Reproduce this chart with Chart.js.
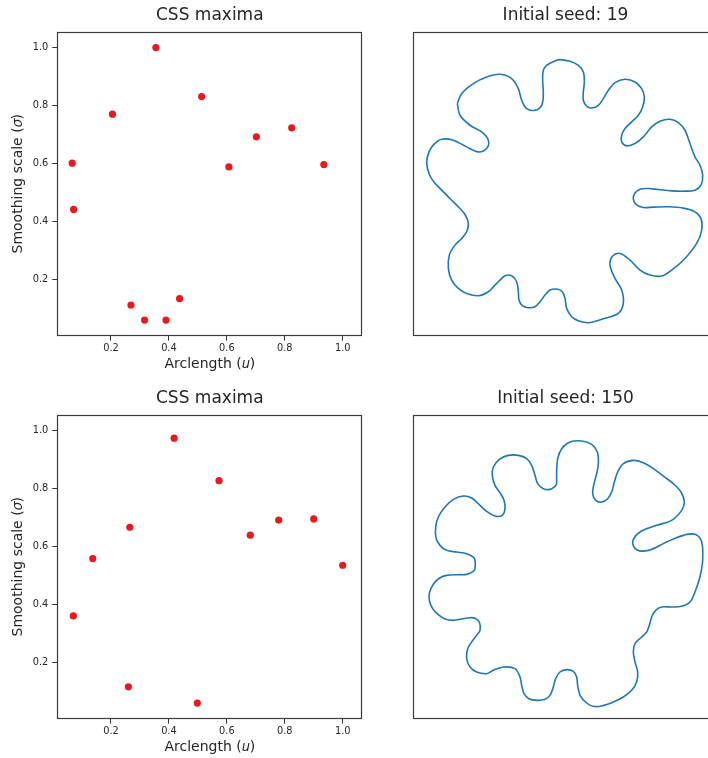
<!DOCTYPE html>
<html>
<head>
<meta charset="utf-8">
<script src="https://cdn.jsdelivr.net/npm/chart.js@4/dist/chart.umd.min.js"></script>
<style>
  html, body { margin: 0; padding: 0; background: #fff; overflow: hidden; width: 708px; height: 758px; }
  canvas { position: absolute; }
</style>
</head>
<body>
<canvas id="css1" style="left:0px;top:0px"></canvas>
<canvas id="seed1" style="left:405px;top:0px"></canvas>
<canvas id="css2" style="left:0px;top:383px"></canvas>
<canvas id="seed2" style="left:405px;top:383px"></canvas>
<script>
// CSS maxima, seed 19
let arc19 = [0.066, 0.071, 0.205, 0.269, 0.316, 0.355, 0.390, 0.437, 0.513, 0.607, 0.702, 0.824, 0.935];
let sigma19 = [0.601, 0.441, 0.770, 0.111, 0.059, 1.000, 0.059, 0.133, 0.831, 0.588, 0.692, 0.723, 0.596];

// CSS maxima, seed 150
let arc150 = [0.070, 0.137, 0.265, 0.260, 0.418, 0.498, 0.573, 0.681, 0.779, 0.900, 1.000];
let sigma150 = [0.360, 0.558, 0.666, 0.115, 0.974, 0.059, 0.827, 0.639, 0.691, 0.695, 0.535];

let xTicks = [0.2, 0.4, 0.6, 0.8, 1.0];
let yTicks = [0.2, 0.4, 0.6, 0.8, 1.0];

// contour outlines (arbitrary units)
let shape19X = [133,146,181,221,261,296,316,326,341,366,386,391,389,391,401,431,441,471,496,511,514,511,511,521,536,556,571,586,606,636,666,686,694,689,676,656,636,626,626,641,666,691,716,741,771,796,816,831,846,861,869,864,846,816,776,736,706,681,665,661,671,691,721,766,811,846,864,866,851,816,776,746,711,681,651,621,599,591,606,626,631,616,571,526,496,476,461,456,448,431,411,396,381,366,346,328,318,316,311,296,276,261,246,226,196,161,136,116,106,109,126,146,161,166,156,136,111,86,64,49,41,48,62,86,121,161,196,221,226,206,171,141];
let shape19Y = [698,728,758,778,786,773,743,708,683,678,693,728,768,798,813,828,830,825,813,793,763,733,708,690,685,693,713,738,761,771,763,743,718,688,663,643,623,603,583,571,578,598,628,645,651,641,618,578,538,513,483,453,438,435,436,440,443,441,428,411,394,386,387,388,384,373,353,318,278,233,198,180,183,198,228,248,240,213,173,138,98,68,52,40,46,58,83,113,133,141,138,123,103,88,85,91,108,133,163,181,181,168,153,133,121,128,143,168,203,243,273,293,313,338,365,388,413,438,461,485,520,553,575,591,588,568,553,563,588,613,633,663];

let shape150X = [431,431,434,446,471,506,536,553,556,551,543,539,548,566,584,596,604,614,631,661,691,721,751,781,804,814,806,776,731,681,659,671,706,761,811,846,866,869,865,858,846,831,806,776,746,728,716,709,701,686,666,661,666,674,671,656,631,601,566,541,521,501,494,491,481,461,441,428,421,411,396,371,348,333,326,321,306,271,241,221,191,171,161,164,176,191,201,199,186,171,146,121,96,76,59,49,50,62,80,101,136,161,181,186,186,181,161,131,101,81,69,68,76,96,121,151,176,201,221,246,268,276,273,261,246,238,241,259,286,316,341,356,366,374,391,411,426];
let shape150Y = [706,741,781,811,831,834,824,801,766,736,706,676,656,651,661,681,711,741,766,776,769,751,729,706,681,651,626,596,581,561,531,508,506,531,551,554,531,476,446,416,381,351,338,336,336,326,306,281,261,246,226,201,171,141,111,86,66,51,39,38,48,71,101,126,143,148,141,121,96,71,59,56,61,76,101,126,151,156,146,136,141,156,181,211,231,251,266,291,302,304,300,296,300,313,331,356,381,406,423,431,433,434,443,451,476,486,496,501,506,521,543,576,606,636,659,669,663,641,623,609,611,631,656,679,701,731,756,779,791,791,781,761,731,706,691,689,698];

const FONT = "'DejaVu Sans', 'Liberation Sans', sans-serif";
const INK = '#262626';

// full box around the plot area, like matplotlib spines
const boxPlugin = {
  id: 'box',
  afterDraw(chart) {
    const a = chart.chartArea;
    const c = chart.ctx;
    c.save();
    c.strokeStyle = '#3c3c3c';
    c.lineWidth = 1.2;
    c.strokeRect(Math.round(a.left) + 0.5, Math.round(a.top) + 0.5,
                 Math.round(a.right - a.left) - 1, Math.round(a.bottom - a.top) - 1);
    c.restore();
  }
};

function toPoints(xs, ys) {
  return xs.map((x, i) => ({ x: x, y: ys[i] }));
}

function titleOpts(text) {
  return {
    display: true, text: text, fullSize: false, color: INK,
    font: { family: FONT, size: 17, weight: 'normal', lineHeight: 1.2 },
    padding: { top: 5, bottom: 6.3 }
  };
}

function cssChart(id, xs, ys) {
  const el = document.getElementById(id);
  el.width = 370; el.height = 383;
  return new Chart(el, {
    type: 'scatter',
    data: {
      datasets: [{
        data: toPoints(xs, ys),
        backgroundColor: '#e8191f',
        borderWidth: 0,
        pointRadius: 3.6
      }]
    },
    options: {
      responsive: false,
      animation: false,
      layout: { padding: { left: 0, right: 7.7, top: 0, bottom: 0 } },
      plugins: {
        legend: { display: false },
        tooltip: { enabled: false },
        title: titleOpts('CSS maxima')
      },
      scales: {
        x: {
          type: 'linear', min: 0.0146, max: 1.0677,
          afterBuildTicks: s => { s.ticks = xTicks.map(v => ({ value: v })); },
          afterFit: s => { s.height = 47.3; },
          border: { display: false },
          grid: { drawOnChartArea: false, drawTicks: true, tickLength: 5, tickColor: '#333', tickWidth: 1 },
          ticks: { color: INK, padding: 2, font: { family: FONT, size: 9.8 }, callback: v => v.toFixed(1) },
          title: { display: true, text: 'Arclength (𝑢)', color: INK,
                   font: { family: FONT, size: 14 }, padding: { top: 0, bottom: 10.6 } }
        },
        y: {
          type: 'linear', min: 0.005, max: 1.055,
          afterBuildTicks: s => { s.ticks = yTicks.map(v => ({ value: v })); },
          afterFit: s => { s.width = 57.3; },
          border: { display: false },
          grid: { drawOnChartArea: false, drawTicks: true, tickLength: 5, tickColor: '#333', tickWidth: 1 },
          ticks: { color: INK, padding: 4, font: { family: FONT, size: 9.8 }, callback: v => v.toFixed(1) },
          title: { display: true, text: 'Smoothing scale (𝜎)', color: INK,
                   font: { family: FONT, size: 14 }, padding: { top: 9.9, bottom: 0 } }
        }
      }
    },
    plugins: [boxPlugin]
  });
}

function shapeChart(id, label, xs, ys, ymax) {
  const el = document.getElementById(id);
  el.width = 320; el.height = 383;
  const pts = toPoints(xs, ys);
  pts.push(pts[0]);
  return new Chart(el, {
    type: 'scatter',
    data: {
      datasets: [{
        data: pts,
        showLine: true,
        borderColor: '#1f77b4',
        borderWidth: 1.6,
        pointRadius: 0,
        tension: 0.35,
        fill: false
      }]
    },
    options: {
      responsive: false,
      animation: false,
      layout: { padding: { left: 8, right: 7, top: 0, bottom: 47 } },
      plugins: {
        legend: { display: false },
        tooltip: { enabled: false },
        title: titleOpts(label)
      },
      scales: {
        x: { type: 'linear', min: 0, max: 915, display: false },
        y: { type: 'linear', min: 0, max: ymax, display: false }
      }
    },
    plugins: [boxPlugin]
  });
}

cssChart('css1', arc19, sigma19);
shapeChart('seed1', 'Initial seed: 19', shape19X, shape19Y, 914);
cssChart('css2', arc150, sigma150);
shapeChart('seed2', 'Initial seed: 150', shape150X, shape150Y, 913);
</script>
</body>
</html>
